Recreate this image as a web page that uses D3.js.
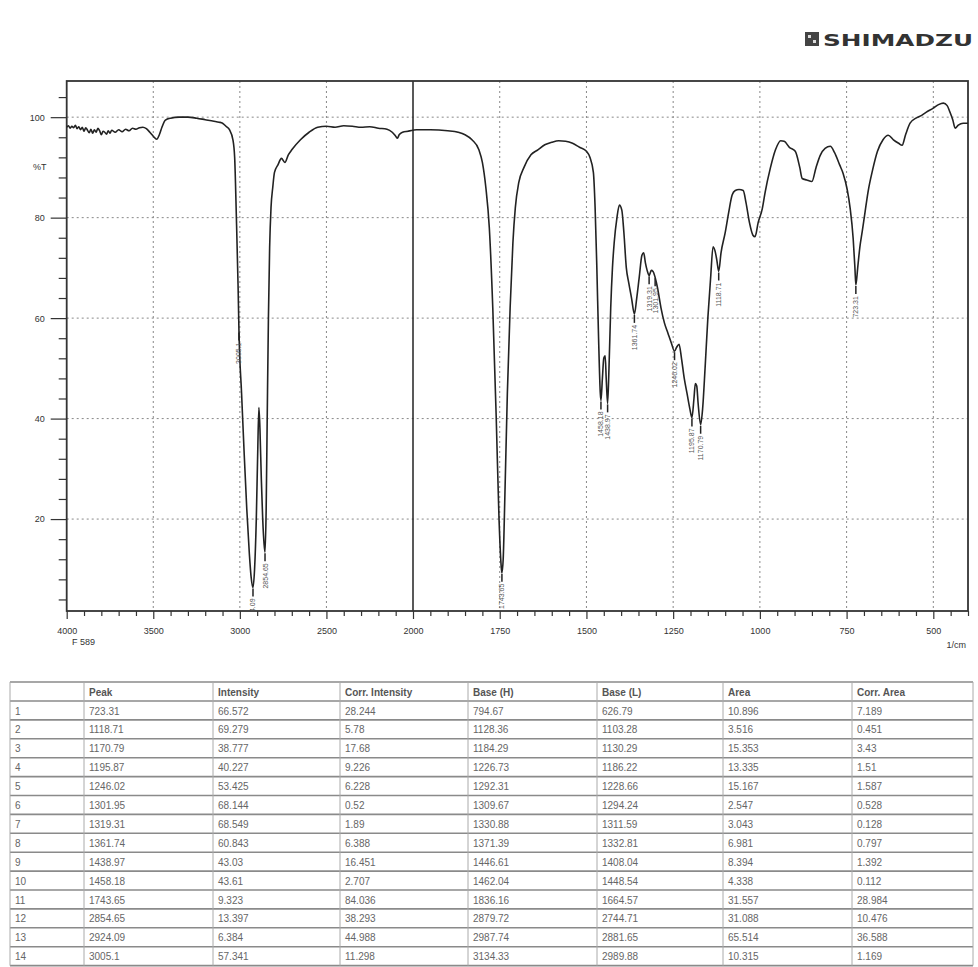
<!DOCTYPE html>
<html>
<head>
<meta charset="utf-8">
<script src="https://cdn.jsdelivr.net/npm/d3@7"></script>
<style>
    body { margin: 0; background: #fff; }
    svg { display: block; font-family: "Liberation Sans", Arial, sans-serif; }
</style>
</head>
<body>
<script>
    // spectrum: wavenumber (1/cm) and %T
    var specWn = [4000, 3990, 3980, 3970, 3960, 3950, 3940, 3930, 3920, 3910, 3900, 3890, 3880, 3870, 3860,
        3850, 3840, 3830, 3820, 3810, 3800, 3790, 3780, 3770, 3760, 3750, 3740, 3720, 3700, 3680, 3660,
        3640, 3620, 3600, 3580, 3560, 3540, 3520, 3500, 3480, 3465, 3450, 3430, 3400, 3350, 3300, 3250,
        3200, 3150, 3120, 3100, 3080, 3060, 3040, 3030, 3020, 3010, 3005.1, 2990, 2975, 2960, 2945, 2935,
        2924.09, 2915, 2905, 2897, 2890, 2884, 2876, 2868, 2860, 2854.65, 2848, 2842, 2835, 2828, 2820,
        2810, 2800, 2780, 2760, 2740, 2720, 2700, 2650, 2600, 2550, 2500, 2450, 2400, 2350, 2300, 2250,
        2200, 2150, 2120, 2100, 2090, 2080, 2060, 2030, 2000,
        1990, 1950, 1900, 1870, 1850, 1830, 1810, 1800, 1790, 1780, 1770, 1760, 1752, 1745, 1743.65,
        1740, 1735, 1728, 1720, 1712, 1705, 1695, 1680, 1660, 1640, 1620, 1600, 1580, 1560, 1540, 1520,
        1500, 1490, 1480, 1475, 1470, 1465, 1460, 1458.18, 1454, 1450, 1446, 1443, 1438.97, 1435, 1430,
        1425, 1420, 1412, 1405, 1398, 1392, 1385, 1378, 1370, 1361.74, 1355, 1348, 1340, 1335, 1330,
        1325, 1319.31, 1313, 1308, 1301.95, 1295, 1285, 1275, 1265, 1255, 1246.02, 1240, 1233, 1226,
        1218, 1210, 1202, 1195.87, 1190, 1186, 1182, 1178, 1170.79, 1165, 1158, 1150, 1142, 1135, 1128,
        1124, 1118.71, 1112, 1100, 1090, 1080, 1071, 1060, 1048, 1040, 1030, 1020, 1014, 1005, 993, 985,
        970, 955, 940, 930, 915, 898, 885, 878, 865, 850, 838, 826, 812, 797, 785, 770, 760, 748, 740,
        731, 726, 723.31, 718, 712, 705, 697, 688, 675, 661, 645, 630, 615, 600, 590, 580, 567, 550, 538,
        520, 500, 485, 471, 460, 452, 444, 437, 428, 414, 400];
    var specT = [98.0, 98.3, 97.8, 98.2, 97.9, 98.4, 97.7, 98.1, 97.5, 98.0, 97.2, 97.9, 97.4, 96.9, 97.6,
        96.8, 97.5, 97.0, 97.8, 97.3, 96.5, 97.2, 97.0, 96.6, 97.3, 96.8, 97.4, 97.0, 97.5, 97.1, 97.6,
        97.3, 97.8, 97.6, 97.9, 98.0, 97.7, 97.0, 96.2, 95.6, 96.5, 98.0, 99.4, 99.8, 100.0, 100.0, 99.8,
        99.5, 99.2, 99.0, 98.8, 98.2, 97.5, 95.5, 92, 80, 66, 57.34, 45, 33, 22, 13, 8.5,
        6.38, 10, 20, 33, 42.2, 38, 28, 20, 15, 13.4, 22, 40, 60, 74, 82,
        86, 89, 90.5, 91.8, 91, 92.5, 93.5, 95.5, 97, 98, 98.2, 98.0, 98.3, 98.2, 98.0, 98.1,
        97.8, 97.6, 97.0, 96.2, 95.8, 96.5, 97.0, 97.2, 97.4,
        97.5, 97.5, 97.3, 97.0, 96.5, 95.5, 93.5, 91, 86, 78, 62, 40, 20, 10, 9.32,
        12, 25, 45, 62, 75, 82, 87, 90, 92.5, 93.5, 94.5, 95, 95.3, 95.2, 94.8, 94,
        93.2, 92, 89, 82, 70, 56, 45, 43.6, 48, 52, 52.5, 48, 43.0, 50, 62,
        70, 75, 80, 82.5, 81.5, 77, 70, 67, 64, 60.8, 64, 68, 72.5, 73, 71,
        69.5, 68.5, 69.5, 69.3, 68.1, 66, 62, 59, 57, 55, 53.4, 54.2, 54.8, 52,
        48, 45, 42, 40.2, 44, 47, 46.5, 43, 38.8, 42, 50, 60, 68, 74.2, 73,
        71.5, 69.3, 73, 77, 81, 84.5, 85.4, 85.6, 85.4, 83, 79, 76.5, 76.2, 79, 81.8, 85,
        89.8, 93.5, 95.3, 95.2, 94, 93.2, 90, 87.8, 87.5, 87.2, 90, 92.4, 93.8, 94.2, 93, 90.5, 88.8, 85.5, 82,
        75.8, 70, 66.6, 70, 74, 77.2, 81, 85.2, 89.5, 93.2, 95.5, 96.4, 95.5, 94.8, 94.4, 96.5, 98.8, 99.8, 100.2,
        101, 101.8, 102.5, 102.8, 102.3, 101, 99.5, 97.8, 98.4, 98.8, 98.8];

    // peak table
    var peakNo = [1, 2, 3, 4, 5, 6, 7, 8, 9, 10, 11, 12, 13, 14];
    var peakWn = [723.31, 1118.71, 1170.79, 1195.87, 1246.02, 1301.95, 1319.31, 1361.74, 1438.97, 1458.18, 1743.65, 2854.65, 2924.09, 3005.1];
    var peakInt = [66.572, 69.279, 38.777, 40.227, 53.425, 68.144, 68.549, 60.843, 43.03, 43.61, 9.323, 13.397, 6.384, 57.341];
    var corrInt = [28.244, 5.78, 17.68, 9.226, 6.228, 0.52, 1.89, 6.388, 16.451, 2.707, 84.036, 38.293, 44.988, 11.298];
    var baseH = [794.67, 1128.36, 1184.29, 1226.73, 1292.31, 1309.67, 1330.88, 1371.39, 1446.61, 1462.04, 1836.16, 2879.72, 2987.74, 3134.33];
    var baseL = [626.79, 1103.28, 1130.29, 1186.22, 1228.66, 1294.24, 1311.59, 1332.81, 1408.04, 1448.54, 1664.57, 2744.71, 2881.65, 2989.88];
    var area = [10.896, 3.516, 15.353, 13.335, 15.167, 2.547, 3.043, 6.981, 8.394, 4.338, 31.557, 31.088, 65.514, 10.315];
    var corrArea = [7.189, 0.451, 3.43, 1.51, 1.587, 0.528, 0.128, 0.797, 1.392, 0.112, 28.984, 10.476, 36.588, 1.169];
    var tableHeads = ["", "Peak", "Intensity", "Corr. Intensity", "Base (H)", "Base (L)", "Area", "Corr. Area"];

    // axis ticks
    var xMajor = [4000, 3500, 3000, 2500, 2000, 1750, 1500, 1250, 1000, 750, 500];
    var yMajor = [20, 40, 60, 80, 100];

    var width = 978, height = 967;
    var svg = d3.select("body").append("svg").attr("width", width).attr("height", height);

    var pLeft = 66.7, pRight = 968, pTop = 81, pBottom = 611;
    var x = d3.scaleLinear().domain([4000, 2000, 400]).range([pLeft, 413, pRight]);
    var y = d3.scaleLinear().domain([1.7, 107.2]).range([pBottom, pTop]);

    var xMinor = d3.range(3900, 2000, -100).concat(d3.range(1950, 399, -50)).filter(v => xMajor.indexOf(v) < 0);
    var yMinor = d3.range(4, 108, 4).filter(v => yMajor.indexOf(v) < 0);

    // logo
    var logo = svg.append("g").attr("transform", "translate(805,32)");
    logo.append("rect").attr("width", 14).attr("height", 14).attr("fill", "#444");
    logo.append("rect").attr("x", 3).attr("y", 3).attr("width", 3).attr("height", 3).attr("fill", "#ddd");
    logo.append("rect").attr("x", 8).attr("y", 8).attr("width", 3).attr("height", 3).attr("fill", "#ddd");
    logo.append("text").attr("x", 18).attr("y", 13.5).attr("font-size", 15).attr("font-weight", "bold")
        .attr("font-family", "DejaVu Sans").attr("fill", "#333")
        .attr("textLength", 150).attr("lengthAdjust", "spacingAndGlyphs").text("SHIMADZU");

    // grid
    var grid = svg.append("g").attr("stroke", "#888").attr("stroke-width", 1).attr("stroke-dasharray", "2,3");
    grid.selectAll(".gx").data(xMajor.filter(v => v != 4000 && v != 2000)).enter().append("line")
        .attr("x1", d => x(d)).attr("x2", d => x(d)).attr("y1", pTop).attr("y2", pBottom);
    grid.selectAll(".gy").data(yMajor).enter().append("line")
        .attr("x1", pLeft).attr("x2", pRight).attr("y1", d => y(d)).attr("y2", d => y(d));
    svg.append("line").attr("x1", x(2000)).attr("x2", x(2000)).attr("y1", pTop).attr("y2", pBottom)
        .attr("stroke", "#222").attr("stroke-width", 1.5);

    // axes
    svg.append("g").attr("transform", `translate(0,${pBottom})`)
        .call(d3.axisBottom(x).tickValues(xMajor).tickSize(8).tickPadding(9).tickFormat(d3.format("d")));
    svg.append("g").attr("transform", `translate(0,${pBottom})`)
        .call(d3.axisBottom(x).tickValues(xMinor).tickSize(5).tickFormat(""));
    svg.append("g").attr("transform", `translate(${pLeft},0)`)
        .call(d3.axisLeft(y).tickValues(yMajor).tickSize(16).tickPadding(6));
    svg.append("g").attr("transform", `translate(${pLeft},0)`)
        .call(d3.axisLeft(y).tickValues(yMinor).tickSize(8).tickFormat(""));
    svg.selectAll(".domain").remove();
    svg.selectAll(".tick line").attr("stroke", "#333").attr("stroke-width", 1.2);
    svg.selectAll(".tick text").attr("font-size", 9).attr("fill", "#333");

    svg.append("rect").attr("x", pLeft).attr("y", pTop).attr("width", pRight - pLeft).attr("height", pBottom - pTop)
        .attr("fill", "none").attr("stroke", "#333").attr("stroke-width", 1.8);

    svg.append("text").attr("x", 33).attr("y", y(90) + 3).attr("font-size", 9).attr("fill", "#333").text("%T");
    svg.append("text").attr("x", 72).attr("y", 645).attr("font-size", 9).attr("fill", "#333").text("F 589");
    svg.append("text").attr("x", 966).attr("y", 648).attr("font-size", 9).attr("fill", "#333")
        .attr("text-anchor", "end").text("1/cm");

    // spectrum
    svg.append("clipPath").attr("id", "plotclip").append("rect")
        .attr("x", pLeft).attr("y", pTop).attr("width", pRight - pLeft).attr("height", pBottom - pTop);
    var plot = svg.append("g").attr("clip-path", "url(#plotclip)");
    var line = d3.line().x((d, i) => x(specWn[i])).y((d, i) => y(specT[i])).curve(d3.curveMonotoneX);
    plot.append("path").datum(specT).attr("d", line)
        .attr("fill", "none").attr("stroke", "#222").attr("stroke-width", 1.6).attr("stroke-linejoin", "round");

    // peak marks
    var pk = plot.selectAll(".peak").data(peakWn).enter().append("g").attr("class", "peak");
    pk.append("line")
        .attr("x1", d => x(d)).attr("x2", d => x(d))
        .attr("y1", (d, i) => y(peakInt[i]) + 1).attr("y2", (d, i) => y(peakInt[i]) + 9)
        .attr("stroke", "#222").attr("stroke-width", 1.5);
    pk.append("text")
        .attr("transform", (d, i) => `translate(${x(d) + 2.5},${y(peakInt[i]) + 11}) rotate(-90)`)
        .attr("text-anchor", "end").attr("font-size", 7).attr("fill", "#555")
        .text(d => String(d));

    // table
    var colX = [10, 84, 213, 340, 468, 597, 723, 852, 973];
    var tTop = 682, headH = 19, rowH = 18.9;
    var rows = peakNo.map((n, i) => [n, peakWn[i], peakInt[i], corrInt[i], baseH[i], baseL[i], area[i], corrArea[i]]);
    var tbl = svg.append("g");
    var tBottom = tTop + headH + rowH * rows.length;
    tbl.selectAll(".hl").data(d3.range(rows.length + 2)).enter().append("line")
        .attr("x1", colX[0]).attr("x2", colX[8])
        .attr("y1", d => d == 0 ? tTop : tTop + headH + rowH * (d - 1))
        .attr("y2", d => d == 0 ? tTop : tTop + headH + rowH * (d - 1))
        .attr("stroke", "#8a8a8a").attr("stroke-width", 1.6);
    tbl.selectAll(".vl").data(colX).enter().append("line")
        .attr("x1", d => d).attr("x2", d => d).attr("y1", tTop).attr("y2", tBottom)
        .attr("stroke", "#aaa").attr("stroke-width", 1);
    tbl.selectAll(".th").data(tableHeads).enter().append("text")
        .attr("x", (d, i) => colX[i] + 5).attr("y", tTop + 13.5)
        .attr("font-size", 10).attr("font-weight", "bold").attr("fill", "#555").text(d => d);
    rows.forEach((r, ri) => {
        tbl.selectAll(".td" + ri).data(r).enter().append("text")
            .attr("x", (d, i) => colX[i] + 5).attr("y", tTop + headH + rowH * ri + 13.5)
            .attr("font-size", 10).attr("fill", "#666").text(d => String(d));
    });
</script>
</body>
</html>
